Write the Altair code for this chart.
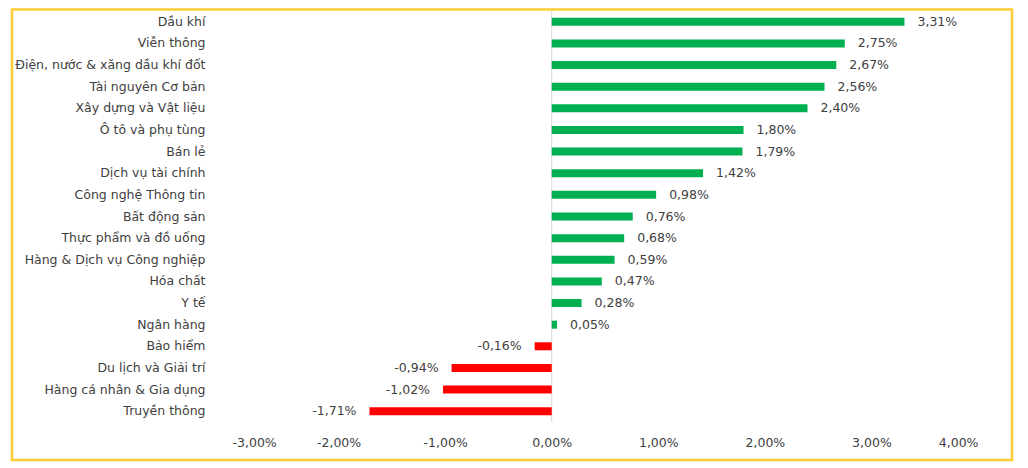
import altair as alt
import pandas as pd

sectors = ["Dầu khí", "Viễn thông", "Điện, nước & xăng dầu khí đốt", "Tài nguyên Cơ bản",
           "Xây dựng và Vật liệu", "Ô tô và phụ tùng", "Bán lẻ", "Dịch vụ tài chính",
           "Công nghệ Thông tin", "Bất động sản", "Thực phẩm và đồ uống",
           "Hàng & Dịch vụ Công nghiệp", "Hóa chất", "Y tế", "Ngân hàng", "Bảo hiểm",
           "Du lịch và Giải trí", "Hàng cá nhân & Gia dụng", "Truyền thông"]
changes = [3.31, 2.75, 2.67, 2.56, 2.40, 1.80, 1.79, 1.42, 0.98, 0.76, 0.68,
           0.59, 0.47, 0.28, 0.05, -0.16, -0.94, -1.02, -1.71]
x_ticks = [-3, -2, -1, 0, 1, 2, 3, 4]

df = pd.DataFrame({"sector": sectors, "change": changes})

FONT = "DejaVu Sans"
TXT = "#404040"
FMT = "replace(replace(format({v}, '.2f'), '.', ','), '\u2212', '-') + '%'"

y_enc = alt.Y("sector:N", sort=sectors, title=None,
              axis=alt.Axis(domain=False, ticks=False, labelPadding=27, labelFontSize=12.5,
                            labelFont=FONT, labelColor=TXT, labelLimit=300))
x_scale = alt.Scale(domain=[-3, 4], nice=False, zero=False)

base = alt.Chart(df)

bars = base.mark_bar(size=8).encode(
    x=alt.X("change:Q", scale=x_scale, title=None,
            axis=alt.Axis(values=x_ticks, grid=False, domain=False, ticks=False,
                          labelPadding=14, labelFontSize=12.5, labelFont=FONT, labelColor=TXT,
                          labelExpr=FMT.format(v="datum.value"))),
    y=y_enc,
    color=alt.condition("datum.change >= 0", alt.value("#00B050"), alt.value("#FF0000")),
)

labels_pos = base.transform_filter("datum.change >= 0").transform_calculate(
    lbl=FMT.format(v="datum.change")
).mark_text(align="left", dx=13, font=FONT, fontSize=12.5, color=TXT).encode(
    x=alt.X("change:Q", scale=x_scale), y=alt.Y("sector:N", sort=sectors), text="lbl:N")

labels_neg = base.transform_filter("datum.change < 0").transform_calculate(
    lbl=FMT.format(v="datum.change")
).mark_text(align="right", dx=-13, font=FONT, fontSize=12.5, color=TXT).encode(
    x=alt.X("change:Q", scale=x_scale), y=alt.Y("sector:N", sort=sectors), text="lbl:N")

zero = alt.Chart(pd.DataFrame({"z": [0]})).mark_rule(color="#D9D9D9", strokeWidth=1).encode(
    x=alt.X("z:Q", scale=x_scale))

border = alt.Chart(pd.DataFrame({"z": [0]})).mark_rect(
    fill=None, stroke="#FFCC33", strokeWidth=2.5
).encode(x=alt.value(-220), x2=alt.value(780), y=alt.value(-1.5), y2=alt.value(449))

chart = alt.layer(zero, bars, labels_pos, labels_neg, border).properties(
    width=746, height=411,
    padding={"left": 224, "right": 42, "top": 3, "bottom": 40},
    autosize=alt.AutoSizeParams(type="none"),
).configure(background="white").configure_view(stroke=None)

chart.save("out.html", embed_options={"renderer": "svg", "actions": False})
